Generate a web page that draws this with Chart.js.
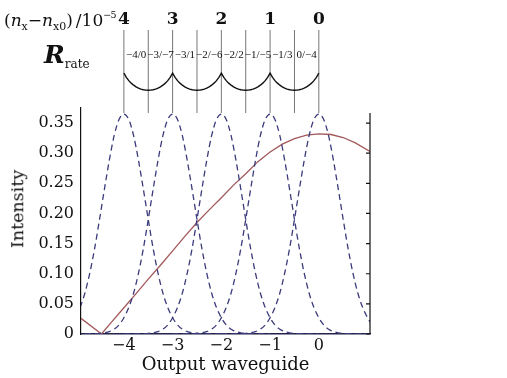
<!DOCTYPE html>
<html>
<head>
<meta charset="utf-8">
<script src="https://cdn.jsdelivr.net/npm/chart.js@4.4.0/dist/chart.umd.min.js"></script>
<style>
  body { margin: 0; background: #fff; }
  #wrap { position: relative; width: 507px; height: 378px; }
  canvas { position: absolute; left: 0; top: 0; }
  .lbl { position: absolute; font-family: "DejaVu Serif", serif; color: #111; white-space: nowrap; line-height: 1; }
  .lbl sub { font-size: 11px; vertical-align: -4px; }
  .lbl sup { font-size: 9.5px; vertical-align: 8px; letter-spacing: -0.8px; }
</style>
</head>
<body>
<div id="wrap">
  <canvas id="main" width="507" height="378"></canvas>
  <canvas id="top" width="507" height="120"></canvas>
  <div class="lbl" style="left:4px;top:10px;font-size:17px">(<i>n</i><sub>x</sub>−<i>n</i><sub>x0</sub>)<span style="margin-left:3px">/10</span><sup>−5</sup></div>
  <div class="lbl" style="left:44px;top:42px;font-size:25px"><b><i>R</i></b><sub style="font-size:12px;vertical-align:-5px">rate</sub></div>
  <div class="lbl" style="left:18px;top:209px;font-size:17.5px;transform:translate(-50%,-50%) rotate(-90deg)">Intensity</div>
</div>
<script>
// --- data ---
const xMin = -4.88, xMax = 1.05;
const xTicks = [-4, -3, -2, -1, 0];
const yTicks = [0, 0.05, 0.10, 0.15, 0.20, 0.25, 0.30, 0.35];
const yTickLabels = ['0', '0.05', '0.10', '0.15', '0.20', '0.25', '0.30', '0.35'];

// dashed peaks: same profile at each output waveguide
const peakCentres = [-4, -3, -2, -1, 0];
const peakOffsets = [-2, -1.5, -1.4, -1.3, -1.2, -1.1, -1.0, -0.9, -0.8, -0.7, -0.6, -0.5, -0.4, -0.3, -0.2, -0.1, 0,
  0.1, 0.2, 0.3, 0.4, 0.5, 0.6, 0.7, 0.8, 0.9, 1.0, 1.1, 1.2, 1.3, 1.4, 1.5, 2];
const peakIntensity = [0, 0.001, 0.002, 0.004, 0.008, 0.015, 0.027, 0.044, 0.068, 0.101, 0.142, 0.190, 0.240, 0.288, 0.329, 0.356, 0.365,
  0.356, 0.329, 0.288, 0.240, 0.190, 0.142, 0.101, 0.068, 0.044, 0.027, 0.015, 0.008, 0.004, 0.002, 0.001, 0];

// solid curve
const redX = [-4.88, -4.46, -4.25, -4.0, -3.75, -3.5, -3.25, -3.0, -2.75, -2.5, -2.25, -2.0, -1.75, -1.5, -1.25, -1.0, -0.75, -0.5, -0.25, 0, 0.25, 0.5, 0.75, 1.05];
const redY = [0.026, 0.0, 0.020, 0.0435, 0.067, 0.091, 0.114, 0.138, 0.162, 0.185, 0.206, 0.226, 0.247, 0.266, 0.286, 0.302, 0.315, 0.324, 0.330, 0.332, 0.331, 0.326, 0.317, 0.303];

// top panel
const topTickLabels = ['4', '3', '2', '1', '0'];
const dividerX = [-4, -3.5, -3, -2.5, -2, -1.5, -1, -0.5, 0];
const ratioPos = [-3.75, -3.25, -2.75, -2.25, -1.75, -1.25, -0.75, -0.25];
const ratioLabels = ['−4/0', '−3/−7', '−3/1', '−2/−6', '−2/2', '−1/−5', '−1/3', '0/−4'];
const rateOffsets = [0, 0.05, 0.1, 0.15, 0.2, 0.25, 0.3, 0.35, 0.4, 0.45, 0.5, 0.55, 0.6, 0.65, 0.7, 0.75, 0.8, 0.85, 0.9, 0.95];
const rateValues = [0.48, 0.43, 0.39, 0.36, 0.335, 0.315, 0.30, 0.288, 0.28, 0.276, 0.275, 0.276, 0.28, 0.288, 0.30, 0.315, 0.335, 0.36, 0.39, 0.43];
const ratioY = 0.70;

const serif = '"DejaVu Serif", serif';

// --- main chart ---
const datasets = [];
peakCentres.forEach(c => {
  datasets.push({
    data: peakOffsets.map((o, i) => ({ x: c + o, y: peakIntensity[i] })),
    borderColor: '#3b3b7c',
    borderWidth: 1.3,
    borderDash: [6, 4],
    pointRadius: 0,
    cubicInterpolationMode: 'monotone'
  });
});
datasets.push({
  data: redX.map((x, i) => ({ x, y: redY[i] })),
  borderColor: '#a2585a',
  borderWidth: 1.3,
  pointRadius: 0,
  tension: 0
});

// right border + inward ticks
const frame = {
  id: 'frame',
  afterDraw(chart) {
    const { ctx, chartArea: a, scales: { y } } = chart;
    ctx.save();
    ctx.strokeStyle = '#111';
    ctx.lineWidth = 1.2;
    ctx.beginPath();
    ctx.moveTo(a.right, a.top + 5);
    ctx.lineTo(a.right, a.bottom);
    yTicks.forEach(v => {
      const py = y.getPixelForValue(v);
      ctx.moveTo(a.right, py);
      ctx.lineTo(a.right - 4, py);
    });
    ctx.stroke();
    ctx.restore();
  }
};

new Chart(document.getElementById('main'), {
  type: 'line',
  data: { datasets },
  options: {
    responsive: false,
    animation: false,
    layout: { padding: { left: 0, right: 137, top: 108, bottom: 0 } },
    plugins: { legend: { display: false }, tooltip: { enabled: false } },
    scales: {
      x: {
        type: 'linear', min: xMin, max: xMax,
        afterBuildTicks: s => { s.ticks = xTicks.map(v => ({ value: v })); },
        afterFit: s => { s.height = 44; },
        ticks: { color: '#111', font: { family: serif, size: 16 }, padding: 2, callback: v => String(v).replace('-', '−') },
        grid: { display: false, drawTicks: false },
        border: { color: '#22224a', width: 1.6 },
        title: { display: true, text: 'Output waveguide', color: '#111', font: { family: serif, size: 18 }, padding: { top: 0, bottom: 2 } }
      },
      y: {
        min: 0, max: 0.375,
        afterBuildTicks: s => { s.ticks = yTicks.map(v => ({ value: v })); },
        afterFit: s => { s.width = 81; },
        ticks: { color: '#111', font: { family: serif, size: 16 }, padding: 7, callback: (v) => yTickLabels[yTicks.indexOf(v)] },
        grid: { display: false, drawTicks: false },
        border: { color: '#111', width: 1.2 }
      }
    }
  },
  plugins: [frame]
});

// --- top panel ---
const topSets = [];
const scallop = [];
for (let k = 0; k < 4; k++) {
  rateOffsets.forEach((o, i) => scallop.push({ x: -4 + k + o, y: rateValues[i] }));
}
scallop.push({ x: 0, y: rateValues[0] });
topSets.push({ data: scallop, borderColor: '#111', borderWidth: 1.4, pointRadius: 0, tension: 0 });
dividerX.forEach(x => {
  topSets.push({ data: [{ x, y: 0 }, { x, y: 1 }], borderColor: '#777', borderWidth: 1, pointRadius: 0 });
});

const ratioText = {
  id: 'ratioText',
  afterDraw(chart) {
    const { ctx, scales: { x, y } } = chart;
    ctx.save();
    ctx.font = '11px "Liberation Serif", serif';
    ctx.fillStyle = '#111';
    ctx.textAlign = 'center';
    ctx.textBaseline = 'middle';
    ratioPos.forEach((p, i) => ctx.fillText(ratioLabels[i], x.getPixelForValue(p), y.getPixelForValue(ratioY)));
    ctx.restore();
  }
};

new Chart(document.getElementById('top'), {
  type: 'line',
  data: { datasets: topSets },
  options: {
    responsive: false,
    animation: false,
    layout: { padding: { left: 81, right: 137, top: 0, bottom: 7 } },
    plugins: { legend: { display: false }, tooltip: { enabled: false } },
    scales: {
      x: {
        type: 'linear', position: 'top', min: xMin, max: xMax,
        afterBuildTicks: s => { s.ticks = xTicks.map(v => ({ value: v })); },
        afterFit: s => { s.height = 30; },
        ticks: { color: '#111', font: { family: serif, size: 17, weight: 'bold' }, padding: -8,
          callback: v => topTickLabels[xTicks.indexOf(v)] },
        grid: { display: false },
        border: { display: false }
      },
      y: { min: 0, max: 1, display: false }
    }
  },
  plugins: [ratioText]
});
</script>
</body>
</html>
